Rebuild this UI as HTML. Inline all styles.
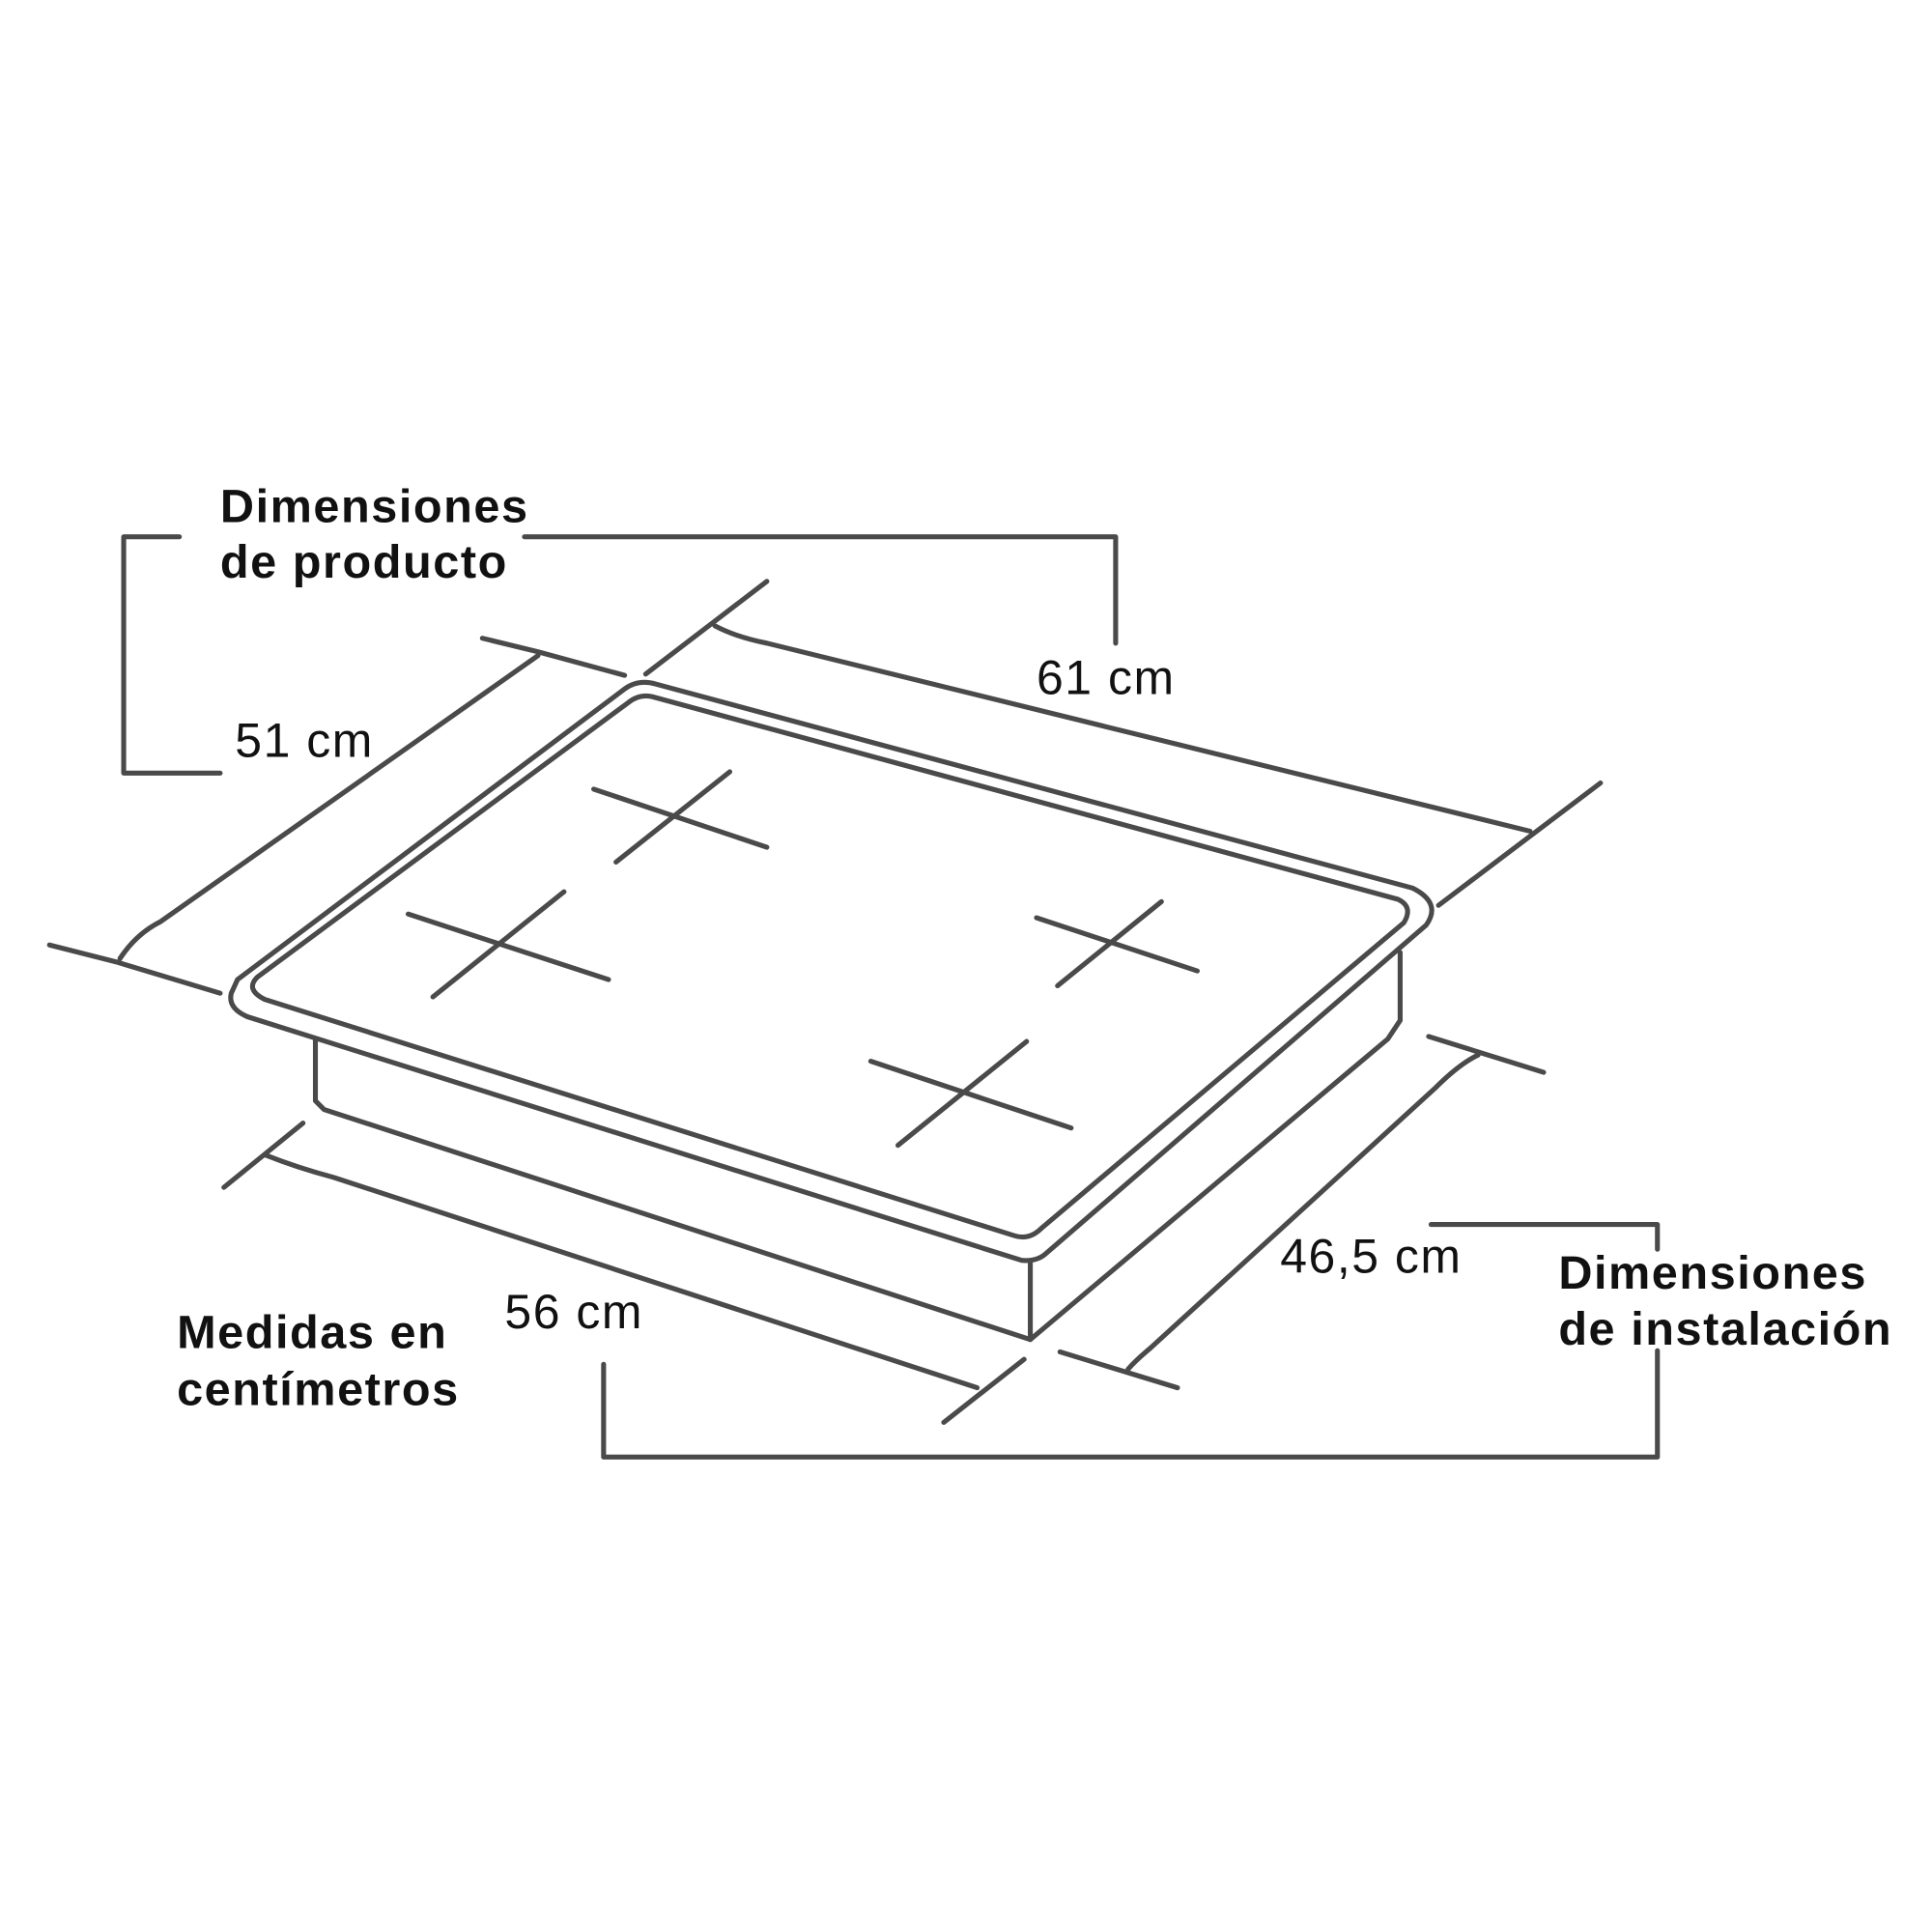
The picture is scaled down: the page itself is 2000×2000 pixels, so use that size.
<!DOCTYPE html>
<html><head><meta charset="utf-8"><style>
html,body{margin:0;padding:0;background:#fff}
svg{display:block}
text{font-family:"Liberation Sans",sans-serif;fill:#111}
.b{font-weight:bold;font-size:38px;letter-spacing:1.2px}
.n{font-size:39px;letter-spacing:1.2px}
</style></head><body>
<svg width="2000" height="2000" viewBox="0 0 1562 1562" xmlns="http://www.w3.org/2000/svg">
<g fill="none" stroke="#4a4a4a" stroke-width="4" stroke-linecap="round" stroke-linejoin="round">
<polyline points="145,434 100,434 100,625 178,625"/>
<polyline points="424,434 902,434 902,520"/>
<polyline points="1157,990 1340,990 1340,1010"/>
<polyline points="1340,1092 1340,1178 488,1178 488,1103"/>
<path d="M192,792 L505,557 Q516,549 530,553 L1142,718 Q1166,730 1153,748 L845,1014 Q838,1020 826,1019 L200,822 Q184,815 187,803 Z"/>
<path d="M208,790 L508,568 Q518,560 530,564 L1130,727 Q1143,733 1135,746 L842,993 Q832,1003 820,999 L214,808 Q198,800 208,790 Z"/>
<polyline points="255,840 255,890 262,897 833,1083 833,1020"/>
<polyline points="833,1083 1122,840 1132,825 1132,770"/>
<path d="M480,638 L620,685 M590,624 L498,697"/>
<path d="M330,739 L492,792 M456,721 L350,806"/>
<path d="M838,742 L968,785 M939,729 L855,797"/>
<path d="M704,858 L866,912 M830,842 L726,926"/>
<path d="M97,775 Q110,755 130,745 L435,530"/>
<path d="M40,764 L95,778 L178,803 M390,516 L435,527 L505,546"/>
<path d="M578,506 Q595,515 620,520 L1237,672"/>
<path d="M620,470 L522,545 M1294,633 L1163,732"/>
<path d="M1195,853 Q1180,860 1160,880 L930,1090 Q918,1100 912,1107"/>
<path d="M1155,838 L1248,867 M857,1093 L952,1122"/>
<path d="M215,934 Q240,944 270,952 L790,1122"/>
<path d="M245,908 L181,960 M828,1099 L763,1150"/>
</g>
<text class="b" x="178" y="422">Dimensiones</text>
<text class="b" x="178" y="467">de producto</text>
<text class="n" x="190" y="612">51 cm</text>
<text class="n" x="838" y="561">61 cm</text>
<text class="n" x="1035" y="1029">46,5 cm</text>
<text class="n" x="408" y="1074">56 cm</text>
<text class="b" x="143" y="1090">Medidas en</text>
<text class="b" x="143" y="1136">centímetros</text>
<text class="b" x="1260" y="1042">Dimensiones</text>
<text class="b" x="1260" y="1087">de instalación</text>
</svg>
</body></html>
